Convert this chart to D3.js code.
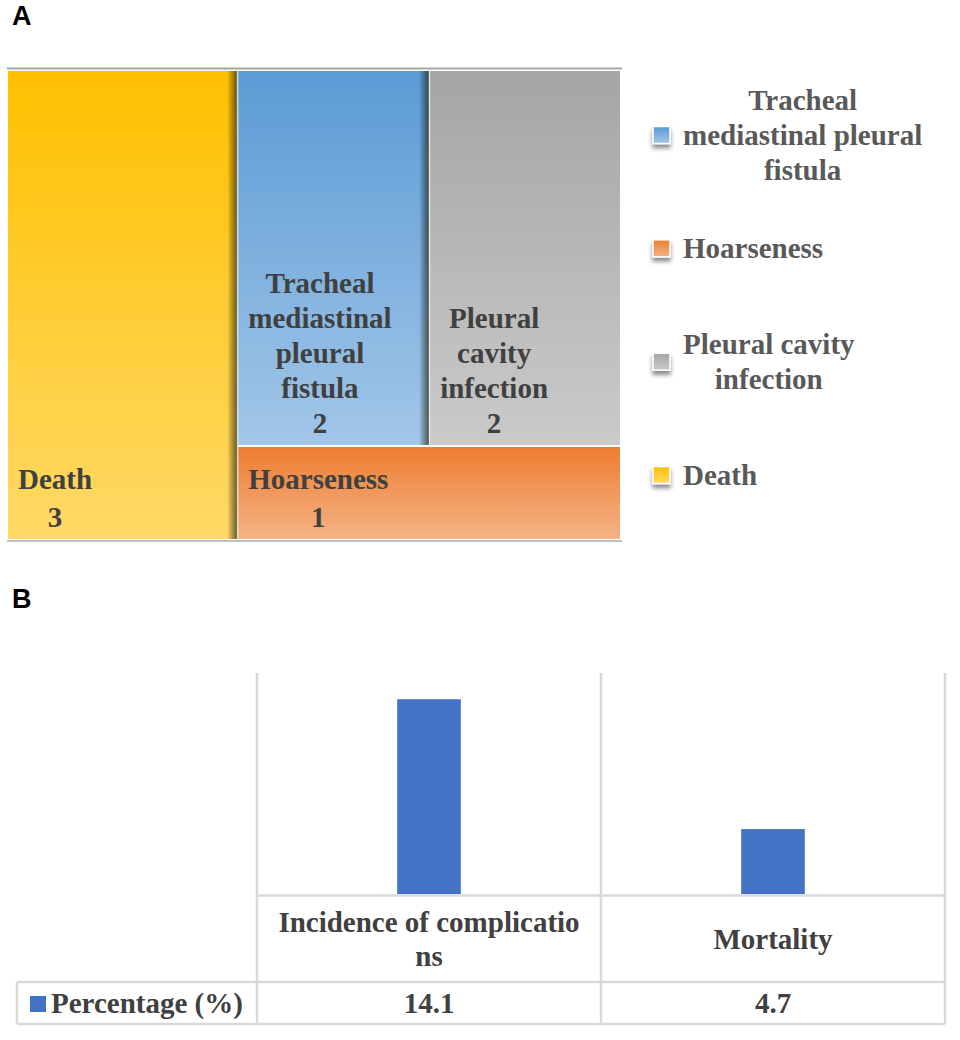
<!DOCTYPE html>
<html>
<head>
<meta charset="utf-8">
<script src="https://cdn.jsdelivr.net/npm/d3@7"></script>
<style>
  html, body { margin: 0; padding: 0; background: #fff; }
  svg { display: block; }
  .serif { font-family: "Liberation Serif", "Times New Roman", Times, serif; font-weight: bold; }
</style>
</head>
<body>
<div id="chart"></div>
<script>
// Panel A data (treemap)
const complications = ["Death", "Tracheal mediastinal pleural fistula", "Pleural cavity infection", "Hoarseness"];
const counts = [3, 2, 2, 1];
const legendOrder = ["Tracheal mediastinal pleural fistula", "Hoarseness", "Pleural cavity infection", "Death"];

// Panel B data (bar chart with data table)
const outcomes = ["Incidence of complications", "Mortality"];
const percentages = [14.1, 4.7];
const seriesName = "Percentage (%)";

const W = 960, H = 1040;

const colours = {
  "Death": ["#FFC000", "#FFD966"],
  "Tracheal mediastinal pleural fistula": ["#5B9BD5", "#A2C6E8"],
  "Pleural cavity infection": ["#A5A5A5", "#CACACA"],
  "Hoarseness": ["#ED7D31", "#F5B386"]
};

const svg = d3.select("#chart").append("svg")
  .attr("width", W).attr("height", H);

const defs = svg.append("defs");
complications.forEach((c, i) => {
  const g = defs.append("linearGradient")
    .attr("id", "grad" + i)
    .attr("x1", 0).attr("y1", 0).attr("x2", 0).attr("y2", 1);
  g.append("stop").attr("offset", "0%").attr("stop-color", colours[c][0]);
  g.append("stop").attr("offset", "100%").attr("stop-color", colours[c][1]);
});
const edge = defs.append("linearGradient").attr("id", "edgeShade")
  .attr("x1", 0).attr("y1", 0).attr("x2", 1).attr("y2", 0);
edge.append("stop").attr("offset", "0%").attr("stop-color", "#000").attr("stop-opacity", 0);
edge.append("stop").attr("offset", "100%").attr("stop-color", "#1a1a00").attr("stop-opacity", 0.65);

defs.append("filter").attr("id", "keyShadow")
  .attr("x", "-50%").attr("y", "-50%").attr("width", "200%").attr("height", "220%")
  .append("feDropShadow")
  .attr("dx", 0).attr("dy", 4).attr("stdDeviation", 2)
  .attr("flood-color", "#000").attr("flood-opacity", 0.45);

// panel letters
svg.append("text").attr("x", 12).attr("y", 25)
  .attr("font-family", "Liberation Sans, Arial, sans-serif")
  .attr("font-weight", "bold").attr("font-size", 27).attr("fill", "#000").text("A");
svg.append("text").attr("x", 12).attr("y", 608)
  .attr("font-family", "Liberation Sans, Arial, sans-serif")
  .attr("font-weight", "bold").attr("font-size", 27).attr("fill", "#000").text("B");

// word / char wrapping helpers
const measurer = svg.append("text").attr("class", "serif")
  .attr("font-size", 29).attr("visibility", "hidden");
function textWidth(s) {
  measurer.text(s);
  return measurer.node().getComputedTextLength();
}
function wrapWords(s, maxW) {
  const words = s.split(" ");
  const lines = [];
  let cur = "";
  words.forEach(w => {
    const t = cur ? cur + " " + w : w;
    if (cur && textWidth(t) > maxW) { lines.push(cur); cur = w; }
    else cur = t;
  });
  if (cur) lines.push(cur);
  return lines;
}
function wrapChars(s, maxW) {
  const lines = [];
  let cur = "";
  for (const ch of s) {
    if (cur && textWidth(cur + ch) > maxW) { lines.push(cur); cur = ch; }
    else cur += ch;
  }
  if (cur) lines.push(cur);
  return lines;
}

// ---------- Panel A: treemap ----------
const tm = { x: 8, y: 71, w: 612, h: 468 };
const leaf = i => ({ name: complications[i], value: counts[i], idx: i });
const tree = { children: [leaf(0), { children: [{ children: [leaf(1), leaf(2)] }, leaf(3)] }] };

const root = d3.hierarchy(tree).sum(d => d.value || 0);
d3.treemap().size([tm.w, tm.h]).paddingInner(2).tile(d3.treemapSliceDice)(root);

const gA = svg.append("g").attr("transform", `translate(${tm.x},${tm.y})`);

// frame lines above and below
gA.append("line").attr("x1", -1).attr("x2", tm.w + 2).attr("y1", -2.5).attr("y2", -2.5)
  .attr("stroke", "#a6a6a6").attr("stroke-width", 2);
gA.append("line").attr("x1", -1).attr("x2", tm.w + 2).attr("y1", tm.h + 2).attr("y2", tm.h + 2)
  .attr("stroke", "#bfbfbf").attr("stroke-width", 2);

const leaves = root.leaves();
const cell = gA.selectAll("g.cell").data(leaves).join("g").attr("class", "cell");
cell.append("rect")
  .attr("x", d => d.x0).attr("y", d => d.y0)
  .attr("width", d => d.x1 - d.x0).attr("height", d => d.y1 - d.y0)
  .attr("fill", d => `url(#grad${d.data.idx})`);
cell.filter(d => d.x1 < tm.w - 1).append("rect")
  .attr("x", d => d.x1 - 9).attr("y", d => d.y0)
  .attr("width", 10).attr("height", d => d.y1 - d.y0)
  .attr("fill", "url(#edgeShade)");

const lh = 35;
cell.each(function (d) {
  const lines = wrapWords(d.data.name, (d.x1 - d.x0) - 30).concat([String(d.data.value)]);
  const blockW = d3.max(lines, l => textWidth(l));
  const cx = d.x0 + 10 + blockW / 2;
  const lastBase = d.y1 - 12;
  const step = lines.length === 2 ? 38 : lh;
  d3.select(this).append("text").attr("class", "serif")
    .attr("font-size", 29)
    .attr("fill", "#404040").attr("text-anchor", "middle")
    .selectAll("tspan").data(lines).join("tspan")
    .attr("x", cx)
    .attr("y", (l, i) => lastBase - (lines.length - 1 - i) * step)
    .text(l => l);
});

// legend
const legY = d3.scalePoint().domain(legendOrder).range([135, 475]);
const leg = svg.append("g").selectAll("g").data(legendOrder).join("g");
leg.append("rect")
  .attr("x", 653).attr("y", d => legY(d) - 8.5)
  .attr("width", 17).attr("height", 17)
  .attr("fill", d => `url(#grad${complications.indexOf(d)})`)
  .attr("stroke", "#fff").attr("stroke-width", 1.5)
  .attr("filter", "url(#keyShadow)");
leg.each(function (d) {
  const lines = wrapWords(d, 250);
  const blockW = d3.max(lines, l => textWidth(l));
  const cx = 683 + blockW / 2;
  const first = legY(d) - (lines.length - 1) * lh / 2 + 10;
  d3.select(this).append("text").attr("class", "serif")
    .attr("font-size", 29)
    .attr("fill", "#595959").attr("text-anchor", "middle")
    .selectAll("tspan").data(lines).join("tspan")
    .attr("x", cx).attr("y", (l, i) => first + i * lh)
    .text(l => l);
});

// ---------- Panel B: bar chart with data table ----------
const plotLeft = 257, plotRight = 945, plotTop = 673, axisY = 895;
const row1Bottom = 982, row2Bottom = 1024, tableLeft = 17;
const gridCol = "#d9d9d9";

const x = d3.scaleBand().domain(outcomes).range([plotLeft, plotRight]);
const y = d3.scaleLinear().domain([0, 16]).range([axisY - 1, plotTop]);
const barW = x.bandwidth() * 0.185;

const gB = svg.append("g");

// vertical grid / table column lines
const colEdges = outcomes.map(c => x(c)).concat([x.range()[1]]);
gB.selectAll("line.col").data(colEdges).join("line").attr("class", "col")
  .attr("x1", d => d).attr("x2", d => d)
  .attr("y1", plotTop).attr("y2", row2Bottom)
  .attr("stroke", gridCol).attr("stroke-width", 2.5);

// bars
gB.selectAll("rect.bar").data(percentages).join("rect").attr("class", "bar")
  .attr("x", (d, i) => x(outcomes[i]) + x.bandwidth() / 2 - barW / 2)
  .attr("y", d => y(d))
  .attr("width", barW)
  .attr("height", d => y(0) - y(d))
  .attr("fill", "#4472C4");

// category axis line
const xAxis = gB.append("g").attr("transform", `translate(0,${axisY})`)
  .call(d3.axisBottom(x).tickSize(0).tickFormat(""));
xAxis.select(".domain").attr("stroke", gridCol).attr("stroke-width", 2.5);

// table horizontal lines
[row1Bottom, row2Bottom].forEach(yy => {
  gB.append("line").attr("x1", tableLeft).attr("x2", plotRight)
    .attr("y1", yy).attr("y2", yy)
    .attr("stroke", gridCol).attr("stroke-width", 2.5);
});
gB.append("line").attr("x1", tableLeft).attr("x2", tableLeft)
  .attr("y1", row1Bottom).attr("y2", row2Bottom)
  .attr("stroke", gridCol).attr("stroke-width", 2.5);

// category labels in table header row
const row1Mid = (axisY + row1Bottom) / 2;
outcomes.forEach(c => {
  const lines = wrapChars(c, 310);
  const first = row1Mid - (lines.length - 1) * 34 / 2 + 10;
  gB.append("text").attr("class", "serif")
    .attr("font-size", 29)
    .attr("fill", "#404040").attr("text-anchor", "middle")
    .selectAll("tspan").data(lines).join("tspan")
    .attr("x", x(c) + x.bandwidth() / 2).attr("y", (l, i) => first + i * 34)
    .text(l => l);
});

// series row
const row2Base = (row1Bottom + row2Bottom) / 2 + 10;
gB.append("rect").attr("x", 30).attr("y", row2Base - 17)
  .attr("width", 16).attr("height", 16).attr("fill", "#4472C4");
gB.append("text").attr("class", "serif").attr("x", 51).attr("y", row2Base)
  .attr("font-size", 29)
  .attr("fill", "#404040").text(seriesName);
gB.selectAll("text.val").data(percentages).join("text").attr("class", "serif val")
  .attr("x", (d, i) => x(outcomes[i]) + x.bandwidth() / 2).attr("y", row2Base)
  .attr("text-anchor", "middle")
  .attr("font-size", 29)
  .attr("fill", "#404040").text(d => d.toFixed(1));

measurer.remove();
</script>
</body>
</html>
